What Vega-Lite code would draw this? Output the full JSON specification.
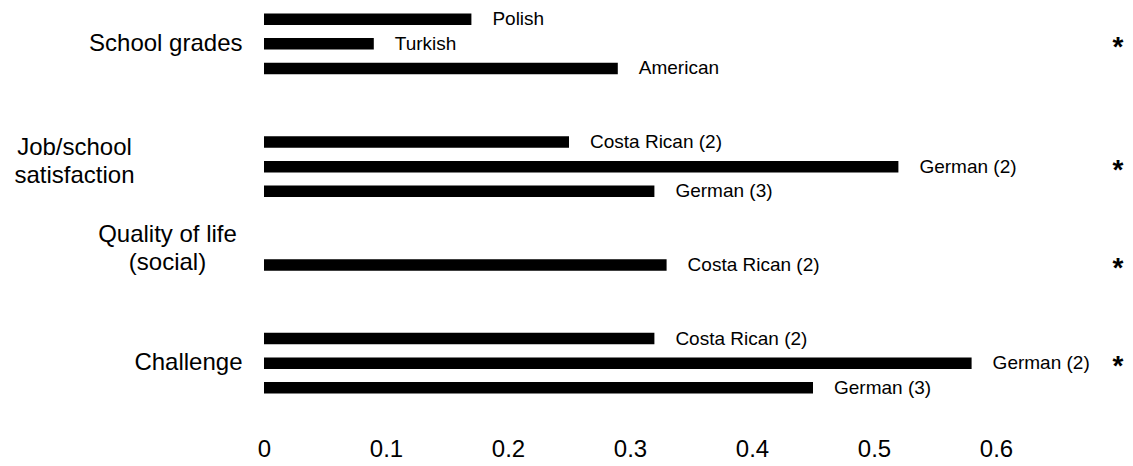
{
  "$schema": "https://vega.github.io/schema/vega-lite/v6.json",
  "width": 854,
  "height": 393,
  "autosize": "none",
  "padding": {"left": 264, "top": 7, "right": 15, "bottom": 66},
  "background": "white",
  "config": {"view": {"stroke": null}, "font": "Liberation Sans", "text": {"font": "Liberation Sans", "color": "black"}},
  "datasets": {
    "bars": [
      {"measure": "School grades", "sample": "Polish", "r": 0.17, "row": "School grades|Polish"},
      {"measure": "School grades", "sample": "Turkish", "r": 0.09, "row": "School grades|Turkish"},
      {"measure": "School grades", "sample": "American", "r": 0.29, "row": "School grades|American"},
      {"measure": "Job/school satisfaction", "sample": "Costa Rican (2)", "r": 0.25, "row": "Job/school satisfaction|Costa Rican (2)"},
      {"measure": "Job/school satisfaction", "sample": "German (2)", "r": 0.52, "row": "Job/school satisfaction|German (2)"},
      {"measure": "Job/school satisfaction", "sample": "German (3)", "r": 0.32, "row": "Job/school satisfaction|German (3)"},
      {"measure": "Quality of life (social)", "sample": "Costa Rican (2)", "r": 0.33, "row": "Quality of life (social)|Costa Rican (2)"},
      {"measure": "Challenge", "sample": "Costa Rican (2)", "r": 0.32, "row": "Challenge|Costa Rican (2)"},
      {"measure": "Challenge", "sample": "German (2)", "r": 0.58, "row": "Challenge|German (2)"},
      {"measure": "Challenge", "sample": "German (3)", "r": 0.45, "row": "Challenge|German (3)"}
    ],
    "groups": [
      {"measure": "School grades", "sig": "*", "row": "School grades|Turkish"},
      {"measure": "Job/school satisfaction", "sig": "*", "row": "Job/school satisfaction|German (2)"},
      {"measure": "Quality of life (social)", "sig": "*", "row": "Quality of life (social)|Costa Rican (2)"},
      {"measure": "Challenge", "sig": "*", "row": "Challenge|German (2)"}
    ]
  },
  "encoding": {
    "y": {
      "field": "row",
      "type": "nominal",
      "sort": null,
      "scale": {
        "domain": [
          "School grades|Polish", "School grades|Turkish", "School grades|American", "gap 1", "gap 2",
          "Job/school satisfaction|Costa Rican (2)", "Job/school satisfaction|German (2)", "Job/school satisfaction|German (3)", "gap 3", "gap 4",
          "Quality of life (social)|Costa Rican (2)", "gap 5", "gap 6",
          "Challenge|Costa Rican (2)", "Challenge|German (2)", "Challenge|German (3)"
        ],
        "paddingInner": 0.53,
        "paddingOuter": 0.265
      },
      "axis": {
        "title": null,
        "domain": false,
        "ticks": false,
        "grid": false,
        "labelFont": "Liberation Sans",
        "labelFontSize": 24,
        "labelColor": "black",
        "labelLimit": 400,
        "labelLineHeight": 28,
        "labelExpr": "datum.value == 'School grades|Turkish' ? 'School grades' : datum.value == 'Job/school satisfaction|German (2)' ? ['Job/school', 'satisfaction'] : datum.value == 'Quality of life (social)|Costa Rican (2)' ? ['Quality of life', '(social)'] : datum.value == 'Challenge|German (2)' ? 'Challenge' : ''",
        "labelAlign": {"condition": {"test": "datum.value == 'Job/school satisfaction|German (2)' || datum.value == 'Quality of life (social)|Costa Rican (2)'", "value": "center"}, "value": "right"},
        "labelPadding": {"condition": [
          {"test": "datum.value == 'Job/school satisfaction|German (2)'", "value": 190},
          {"test": "datum.value == 'Quality of life (social)|Costa Rican (2)'", "value": 97}
        ], "value": 22},
        "labelOffset": {"condition": [
          {"test": "datum.value == 'Job/school satisfaction|German (2)'", "value": -19},
          {"test": "datum.value == 'Quality of life (social)|Costa Rican (2)'", "value": -30}
        ], "value": 0}
      }
    }
  },
  "layer": [
    {
      "data": {"name": "bars"},
      "mark": {"type": "bar", "color": "black"},
      "encoding": {
        "x": {
          "field": "r",
          "type": "quantitative",
          "scale": {"domain": [0, 0.7], "nice": false, "zero": true},
          "axis": {
            "title": null,
            "values": [0, 0.1, 0.2, 0.3, 0.4, 0.5, 0.6],
            "format": "~g",
            "domain": false,
            "ticks": false,
            "grid": false,
            "labelFlush": false,
            "labelOverlap": false,
            "labelFont": "Liberation Sans",
            "labelFontSize": 24,
            "labelColor": "black",
            "labelPadding": 37
          }
        }
      }
    },
    {
      "data": {"name": "bars"},
      "mark": {"type": "text", "align": "left", "baseline": "middle", "dx": 21, "fontSize": 19},
      "encoding": {
        "x": {"field": "r", "type": "quantitative"},
        "text": {"field": "sample"}
      }
    },
    {
      "data": {"name": "groups"},
      "mark": {"type": "text", "align": "center", "baseline": "alphabetic", "dy": 12, "fontSize": 28, "fontWeight": "bold"},
      "encoding": {
        "x": {"datum": 0.7, "type": "quantitative"},
        "text": {"field": "sig"}
      }
    }
  ]
}
